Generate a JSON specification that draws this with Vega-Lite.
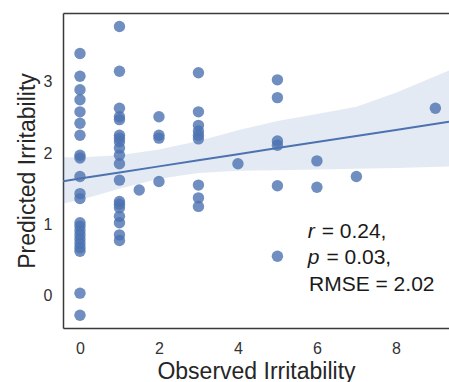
{
  "$schema": "https://vega.github.io/schema/vega-lite/v6.json",
  "autosize": {"type": "none"},
  "padding": {"left": 63, "top": 13, "right": 0, "bottom": 54},
  "width": 386,
  "height": 315,
  "config": {
    "view": {"stroke": null},
    "font": "Liberation Sans",
    "axis": {
      "grid": false,
      "ticks": false,
      "domainColor": "#3a3a3a",
      "domainWidth": 1.5,
      "labelColor": "#333333",
      "titleColor": "#262626",
      "labelFont": "Liberation Sans",
      "titleFont": "Liberation Sans",
      "labelFontSize": 16,
      "titleFontSize": 23,
      "titleFontWeight": "normal"
    }
  },
  "datasets": {
    "points": [
      {"obs": 0, "pred": 3.40}, {"obs": 0, "pred": 3.08}, {"obs": 0, "pred": 2.89}, {"obs": 0, "pred": 2.75},
      {"obs": 0, "pred": 2.58}, {"obs": 0, "pred": 2.42}, {"obs": 0, "pred": 2.25}, {"obs": 0, "pred": 1.97},
      {"obs": 0, "pred": 1.93}, {"obs": 0, "pred": 1.67}, {"obs": 0, "pred": 1.43}, {"obs": 0, "pred": 1.36},
      {"obs": 0, "pred": 1.02}, {"obs": 0, "pred": 0.97}, {"obs": 0, "pred": 0.91}, {"obs": 0, "pred": 0.85},
      {"obs": 0, "pred": 0.79}, {"obs": 0, "pred": 0.73}, {"obs": 0, "pred": 0.67}, {"obs": 0, "pred": 0.62},
      {"obs": 0, "pred": 0.03}, {"obs": 0, "pred": -0.28},
      {"obs": 1, "pred": 3.78}, {"obs": 1, "pred": 3.15}, {"obs": 1, "pred": 2.63}, {"obs": 1, "pred": 2.51},
      {"obs": 1, "pred": 2.47}, {"obs": 1, "pred": 2.25}, {"obs": 1, "pred": 2.21}, {"obs": 1, "pred": 2.16},
      {"obs": 1, "pred": 2.07}, {"obs": 1, "pred": 1.97}, {"obs": 1, "pred": 1.85}, {"obs": 1, "pred": 1.62},
      {"obs": 1, "pred": 1.32}, {"obs": 1, "pred": 1.28}, {"obs": 1, "pred": 1.23}, {"obs": 1, "pred": 1.11},
      {"obs": 1, "pred": 1.02}, {"obs": 1, "pred": 0.85}, {"obs": 1, "pred": 0.77},
      {"obs": 1.5, "pred": 1.48},
      {"obs": 2, "pred": 2.51}, {"obs": 2, "pred": 2.25}, {"obs": 2, "pred": 2.21}, {"obs": 2, "pred": 1.60},
      {"obs": 3, "pred": 3.13}, {"obs": 3, "pred": 2.58}, {"obs": 3, "pred": 2.39}, {"obs": 3, "pred": 2.31},
      {"obs": 3, "pred": 2.25}, {"obs": 3, "pred": 2.20}, {"obs": 3, "pred": 1.55}, {"obs": 3, "pred": 1.37},
      {"obs": 3, "pred": 1.25},
      {"obs": 4, "pred": 1.85},
      {"obs": 5, "pred": 3.03}, {"obs": 5, "pred": 2.78}, {"obs": 5, "pred": 2.17}, {"obs": 5, "pred": 2.11},
      {"obs": 5, "pred": 1.54}, {"obs": 5, "pred": 0.55},
      {"obs": 6, "pred": 1.89}, {"obs": 6, "pred": 1.52},
      {"obs": 7, "pred": 1.67},
      {"obs": 9, "pred": 2.63}
    ],
    "band": [
      {"obs": -0.43, "lo": 1.29, "hi": 1.94, "fit": 1.605},
      {"obs": 0, "lo": 1.34, "hi": 1.94, "fit": 1.642},
      {"obs": 1, "lo": 1.50, "hi": 1.97, "fit": 1.728},
      {"obs": 2, "lo": 1.64, "hi": 2.05, "fit": 1.813},
      {"obs": 3, "lo": 1.72, "hi": 2.17, "fit": 1.899},
      {"obs": 4, "lo": 1.75, "hi": 2.32, "fit": 1.984},
      {"obs": 5, "lo": 1.76, "hi": 2.45, "fit": 2.070},
      {"obs": 6, "lo": 1.77, "hi": 2.55, "fit": 2.155},
      {"obs": 7, "lo": 1.78, "hi": 2.65, "fit": 2.241},
      {"obs": 8, "lo": 1.79, "hi": 2.85, "fit": 2.326},
      {"obs": 9.345, "lo": 1.81, "hi": 3.16, "fit": 2.441}
    ],
    "notes": [
      {"xa": 5.77, "xb": 6.12, "y": 0.81, "it": "r", "rest": "= 0.24,"},
      {"xa": 5.77, "xb": 6.24, "y": 0.436, "it": "p", "rest": "= 0.03,"},
      {"xa": 5.77, "xb": 5.80, "y": 0.06, "it": "", "rest": "RMSE = 2.02"}
    ]
  },
  "resolve": {"axis": {"x": "independent"}},
  "layer": [
    {
      "data": {"name": "band"},
      "mark": {"type": "area", "color": "#4C72B0", "opacity": 0.15, "clip": true},
      "encoding": {
        "x": {
          "field": "obs", "type": "quantitative",
          "scale": {"domain": [-0.43, 9.345], "nice": false, "zero": false},
          "axis": {"orient": "bottom", "values": [0, 2, 4, 6, 8], "format": "d", "title": "Observed Irritability", "labelPadding": 12, "titlePadding": 4}
        },
        "y": {
          "field": "lo", "type": "quantitative",
          "scale": {"domain": [-0.46, 3.97], "nice": false, "zero": false},
          "axis": {"values": [0, 1, 2, 3], "format": "d", "title": "Predicted Irritability", "labelPadding": 11, "titlePadding": 4}
        },
        "y2": {"field": "hi"}
      }
    },
    {
      "data": {"name": "band"},
      "mark": {"type": "line", "color": "#4C72B0", "strokeWidth": 2, "clip": true},
      "encoding": {
        "x": {
          "field": "obs", "type": "quantitative",
          "axis": {"orient": "top", "labels": false, "title": null, "values": []}
        },
        "y": {"field": "fit", "type": "quantitative"}
      }
    },
    {
      "data": {"name": "points"},
      "mark": {"type": "circle", "color": "#4C72B0", "opacity": 0.8, "size": 130},
      "encoding": {
        "x": {"field": "obs", "type": "quantitative", "axis": null},
        "y": {"field": "pred", "type": "quantitative"}
      }
    },
    {
      "data": {"name": "notes"},
      "mark": {"type": "text", "fontSize": 21, "fontStyle": "italic", "align": "left", "baseline": "alphabetic", "color": "#1a1a1a", "font": "Liberation Sans"},
      "encoding": {
        "x": {"field": "xa", "type": "quantitative", "axis": null},
        "y": {"field": "y", "type": "quantitative"},
        "text": {"field": "it"}
      }
    },
    {
      "data": {"name": "notes"},
      "mark": {"type": "text", "fontSize": 21, "align": "left", "baseline": "alphabetic", "color": "#1a1a1a", "font": "Liberation Sans"},
      "encoding": {
        "x": {"field": "xb", "type": "quantitative", "axis": null},
        "y": {"field": "y", "type": "quantitative"},
        "text": {"field": "rest"}
      }
    }
  ]
}
